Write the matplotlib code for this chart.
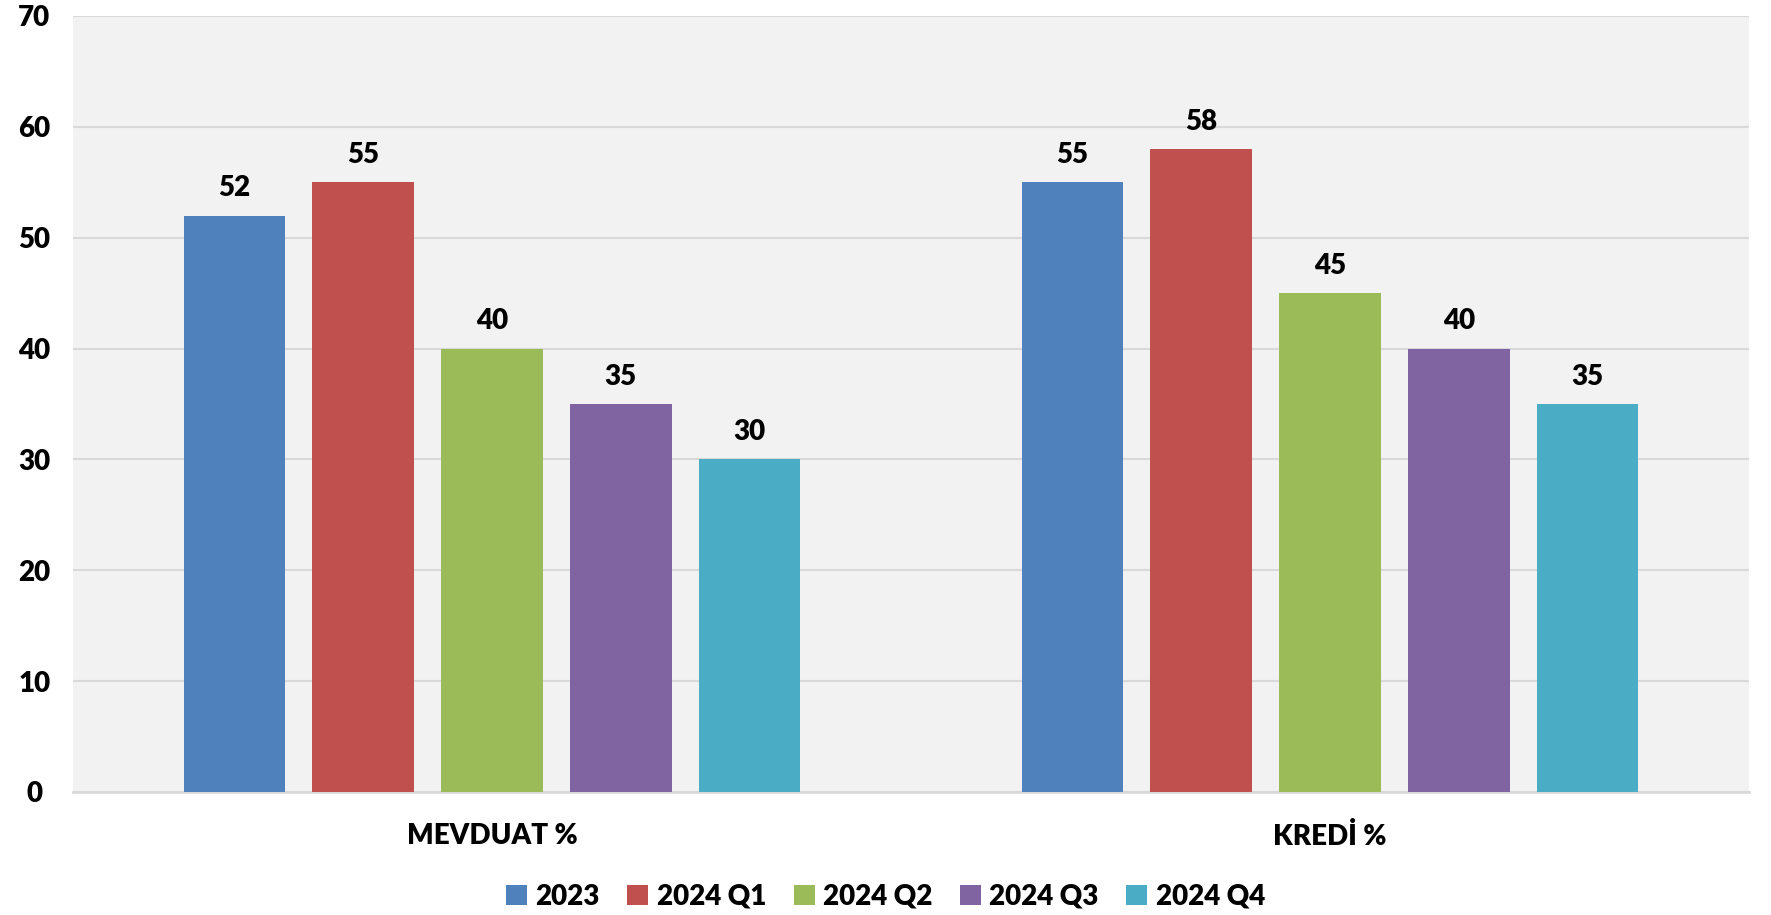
import numpy as np
import matplotlib
matplotlib.use('Agg')
import matplotlib.pyplot as plt

plt.rcParams['font.family'] = ['Lato', 'DejaVu Sans']
plt.rcParams['font.weight'] = 'heavy'

categories = ['MEVDUAT %', 'KREDİ %']
series = ['2023', '2024 Q1', '2024 Q2', '2024 Q3', '2024 Q4']
values = [
    [52, 55],
    [55, 58],
    [40, 45],
    [35, 40],
    [30, 35],
]
colors = ['#4F81BD', '#C0504D', '#9BBB59', '#8064A2', '#4BACC6']

fig = plt.figure(figsize=(17.71, 9.15), dpi=100)
ax = fig.add_axes([73 / 1771, 1 - 792 / 915, (1749 - 73) / 1771, (792 - 16) / 915])
ax.set_facecolor('#F2F2F2')

x = np.arange(len(categories))
width = 0.1214
step = 0.1537
for i, (name, vals) in enumerate(zip(series, values)):
    pos = x + (i - 2) * step
    bars = ax.bar(pos, vals, width, color=colors[i], label=name, zorder=3)
    for b, v in zip(bars, vals):
        ax.text(b.get_x() + b.get_width() / 2, v + 1.3, str(v), ha='center', va='bottom',
                fontsize=20, fontweight='heavy', color='black')

ax.set_xlim(-0.5, 1.5)
ax.set_ylim(0, 70)
ax.set_yticks(range(0, 71, 10))
ax.yaxis.grid(True, color='#D9D9D9', linewidth=1.5, zorder=0)
ax.set_axisbelow(True)
for s in ['top', 'right', 'left']:
    ax.spines[s].set_visible(False)
ax.spines['bottom'].set_color('#D9D9D9')
ax.spines['bottom'].set_linewidth(2)
ax.tick_params(axis='both', length=0, labelsize=20)
ax.tick_params(axis='y', pad=28)
ax.tick_params(axis='x', pad=22)
ax.set_xticks(x)
ax.set_xticklabels(categories, fontweight='heavy')
for lbl in ax.get_yticklabels():
    lbl.set_fontweight('heavy')
    lbl.set_horizontalalignment('center')

leg = fig.legend(loc='center', bbox_to_anchor=(0.5, 1 - 897 / 915), ncol=5, frameon=False,
                 handlelength=0.75, handleheight=0.75, handletextpad=0.3,
                 columnspacing=1.0, prop={'weight': 'heavy', 'size': 20})

fig.savefig('out.png', dpi=100, facecolor='white')
